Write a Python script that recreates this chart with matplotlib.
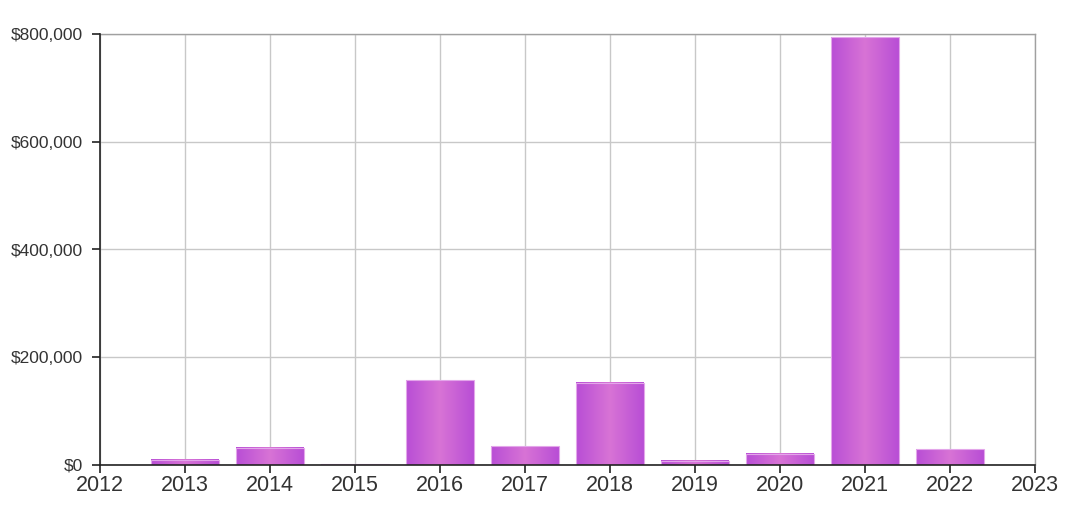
import numpy as np
import matplotlib
matplotlib.use("Agg")
import matplotlib.pyplot as plt
from matplotlib.colors import LinearSegmentedColormap
from matplotlib.ticker import FuncFormatter

years = [2013, 2014, 2015, 2016, 2017, 2018, 2019, 2020, 2021, 2022]
values = [10000, 32000, 1500, 157000, 35000, 153000, 7500, 20500, 794000, 29000]
x_ticks = list(range(2012, 2024))
y_ticks = [0, 200000, 400000, 600000, 800000]

plt.rcParams['font.family'] = ['Liberation Sans', 'DejaVu Sans']

fig = plt.figure(figsize=(10.68, 5.12), dpi=100)
ax = fig.add_axes([100/1068, 1-465/512, (1035-100)/1068, (465-34)/512])

cmap = LinearSegmentedColormap.from_list("g", ["#b84ed6", "#d873d5", "#b84ed6"])
grad = np.linspace(0, 1, 256).reshape(1, -1)
width = 0.8
bars = ax.bar(years, values, width=width, color="none", edgecolor="#e3a6ea", linewidth=0.8, zorder=3)
for b in bars:
    x0, y0 = b.get_x(), b.get_y()
    w, h = b.get_width(), b.get_height()
    ax.imshow(grad, extent=[x0, x0 + w, y0, y0 + h], aspect='auto', cmap=cmap, zorder=2.5, interpolation='bilinear')

ax.set_xlim(2012, 2023)
ax.set_ylim(0, 800000)
ax.set_xticks(x_ticks)
ax.set_yticks(y_ticks)
ax.yaxis.set_major_formatter(FuncFormatter(lambda v, p: "${:,.0f}".format(v)))
ax.grid(True, color="#c8c8c8", linewidth=1.0, zorder=0)
ax.set_axisbelow(True)

for s in ["top", "right"]:
    ax.spines[s].set_color("#a0a0a0")
    ax.spines[s].set_linewidth(1.0)
for s in ["left", "bottom"]:
    ax.spines[s].set_color("#222222")
    ax.spines[s].set_linewidth(1.2)
    ax.spines[s].set_zorder(4)

ax.tick_params(axis='y', labelsize=12.5, length=6, width=1.2, color="#222222", labelcolor="#333333", pad=6)
ax.tick_params(axis='x', labelsize=15.5, length=6, width=1.2, color="#222222", labelcolor="#333333", pad=1.5)

fig.savefig("out.png", dpi=100)
